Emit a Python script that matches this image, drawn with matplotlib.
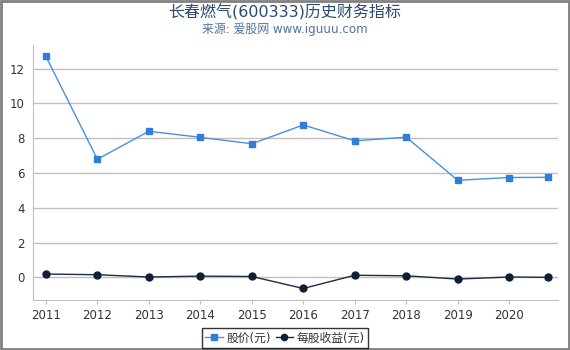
import matplotlib
matplotlib.use('Agg')
import matplotlib.pyplot as plt

plt.rcParams['font.family'] = ['DejaVu Sans', 'Noto Sans CJK SC']

# Daten
jahre = [2011, 2012, 2013, 2014, 2015, 2016, 2017, 2018, 2019, 2020, 2020.75]
jahr_labels = ['2011', '2012', '2013', '2014', '2015', '2016', '2017', '2018', '2019', '2020']
kurs = [12.7, 6.79, 8.4, 8.05, 7.68, 8.76, 7.85, 8.06, 5.58, 5.74, 5.75]
eps = [0.19, 0.15, 0.02, 0.07, 0.05, -0.64, 0.12, 0.09, -0.1, 0.02, 0.0]

fig = plt.figure(figsize=(5.7, 3.5), dpi=100)
ax = fig.add_axes([0.058, 0.143, 0.921, 0.728])

ax.plot(jahre, kurs, color='#4a8fe0', linewidth=1, marker='s', markersize=5,
        markerfacecolor='#2f7fd8', markeredgecolor='#2f7fd8', label='股价(元)', zorder=3)
ax.plot(jahre, eps, color='#1c2c44', linewidth=1, marker='o', markersize=5,
        markerfacecolor='#0f1f38', markeredgecolor='#0f1f38', label='每股收益(元)', zorder=3)

ax.set_xlim(2010.75, 2020.95)
ax.set_ylim(-1.3, 13.35)
ax.set_xticks(jahre[:10])
ax.set_xticklabels(jahr_labels)
ax.set_yticks([0, 2, 4, 6, 8, 10, 12])

ax.grid(axis='y', color='#c0c0c0', linewidth=1)
ax.set_axisbelow(True)
for s in ['top', 'right']:
    ax.spines[s].set_visible(False)
for s in ['left', 'bottom']:
    ax.spines[s].set_color('#c0c0c0')
ax.tick_params(axis='y', length=0, labelsize=8.5, colors='#333333', pad=6)
ax.tick_params(axis='x', length=3, color='#c0c0c0', labelsize=8.5, labelcolor='#333333')

fig.text(0.5, 0.966, '长春燃气(600333)历史财务指标', ha='center', va='center',
         fontsize=11.5, color='#2b4a6e')
fig.text(0.5, 0.917, '来源: 爱股网 www.iguuu.com', ha='center', va='center',
         fontsize=8.6, color='#4f73a0')

leg = fig.legend(loc='center', bbox_to_anchor=(0.5, 0.034), ncol=2, fontsize=8.5,
                 frameon=True, fancybox=False, handlelength=1.5, handletextpad=0.3,
                 columnspacing=0.4, borderpad=0.3, markerscale=0.9)
leg.get_frame().set_edgecolor('black')
leg.get_frame().set_linewidth(1)
for t in leg.get_texts():
    t.set_color('#333333')

# Rahmen um die Grafik
fig.patches.append(plt.Rectangle((0.002, 0.003), 0.996, 0.994, transform=fig.transFigure,
                                 fill=False, edgecolor='#808080', linewidth=2))

fig.savefig('out.png', dpi=100)
